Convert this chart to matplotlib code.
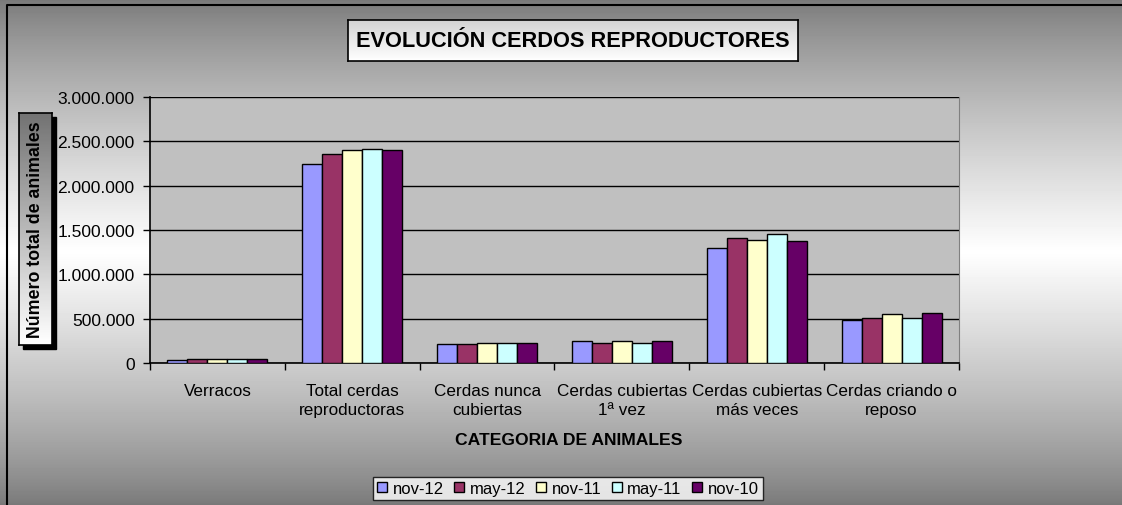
import numpy as np
import matplotlib.pyplot as plt
from matplotlib.patches import Rectangle
from matplotlib.lines import Line2D
from matplotlib.ticker import FuncFormatter, FixedLocator

plt.rcParams['font.family'] = ['Liberation Sans', 'DejaVu Sans']

# datos
categorias = ["Verracos", "Total cerdas\nreproductoras", "Cerdas nunca\ncubiertas",
              "Cerdas cubiertas\n1ª vez", "Cerdas cubiertas\nmás veces", "Cerdas criando o\nreposo"]
series = ["nov-12", "may-12", "nov-11", "may-11", "nov-10"]
nov12 = [32000, 2247000, 213000, 247000, 1299000, 487000]
may12 = [48000, 2355000, 213000, 228000, 1408000, 506000]
nov11 = [48000, 2397000, 231000, 247000, 1393000, 551000]
may11 = [48000, 2416000, 231000, 228000, 1456000, 506000]
nov10 = [48000, 2397000, 231000, 247000, 1374000, 565000]
colores = ["#9999FF", "#993366", "#FFFFCC", "#CCFFFF", "#660066"]

W, H = 1122, 506
fig = plt.figure(figsize=(W / 100, H / 100), dpi=100)

def fx(px):
    return px / W

def fy(py):
    return 1 - py / H

# fondo degradado (gris arriba y abajo, blanco en el centro), pixel a pixel
t = np.linspace(0, 1, H)
g = 0.47 + 0.53 * (1 - np.abs(t - 0.5) * 2) ** 0.8
fondo = np.repeat(g[:, None], W, axis=1)
fig.figimage(fondo, xo=0, yo=0, cmap='gray', vmin=0, vmax=1, origin='upper', zorder=-10)
# borde exterior (solo izquierda y arriba quedan dentro de la imagen)
fig.add_artist(Line2D([fx(7), fx(7), 1.05], [-0.05, fy(6), fy(6)], color='black', lw=1.5,
                      transform=fig.transFigure))

# grafico principal
ax = fig.add_axes([fx(150), fy(364.3), fx(959 - 150), (364.3 - 97.7) / H])
ax.set_facecolor('#C0C0C0')
x = np.arange(len(categorias))
ancho = 0.1483
datos = [nov12, may12, nov11, may11, nov10]
for i, (nombre, vals, col) in enumerate(zip(series, datos, colores)):
    ax.bar(x + (i - 2) * ancho, vals, ancho, color=col, edgecolor='black',
           linewidth=1, label=nombre, zorder=3)

ax.set_xlim(-0.5, len(categorias) - 0.5)
ax.set_ylim(0, 3000000)
ax.set_yticks(np.arange(0, 3000001, 500000))
ax.yaxis.set_major_formatter(FuncFormatter(lambda v, p: f"{int(v):,}".replace(',', '.')))
ax.grid(axis='y', color='black', linewidth=1, zorder=1)
ax.set_xticks(x)
ax.set_xticklabels(categorias, fontsize=12.3, linespacing=1.35)
ax.xaxis.set_minor_locator(FixedLocator(np.arange(-0.5, len(categorias), 1)))
ax.tick_params(axis='x', which='major', length=0, pad=14)
ax.tick_params(axis='x', which='minor', length=5, width=1, color='black')
ax.tick_params(axis='y', length=5, width=1, pad=6, labelsize=12.5)
ax.spines['top'].set_visible(False)
ax.spines['right'].set_color('#808080')
ax.spines['left'].set_linewidth(1.2)
ax.spines['bottom'].set_linewidth(1.2)

fig.text(fx(569), fy(441), "CATEGORIA DE ANIMALES", ha='center', va='center',
         fontsize=12.6, fontweight='bold')

# titulo en caja con degradado
tax = fig.add_axes([fx(348), fy(62), fx(798 - 348), (62 - 20.5) / H])
tg = np.linspace(0.82, 1.0, 100)
tax.imshow(tg[:, None] * np.ones((1, 2)), cmap='gray', vmin=0, vmax=1, aspect='auto',
           extent=[0, 1, 0, 1], origin='upper')
tax.set_xticks([])
tax.set_yticks([])
for s in tax.spines.values():
    s.set_linewidth(1.2)
tax.text(0.5, 0.5, "EVOLUCIÓN CERDOS REPRODUCTORES", ha='center', va='center',
         fontsize=15.7, fontweight='bold', transform=tax.transAxes)

# etiqueta del eje y en caja con sombra
fig.add_artist(Rectangle((fx(23), fy(350)), fx(33), (350 - 118) / H, color='black',
                         transform=fig.transFigure, zorder=0))
yax = fig.add_axes([fx(19), fy(346), fx(33), (346 - 114) / H])
yg = np.linspace(1.0, 0.45, 100)
yax.imshow(yg[:, None] * np.ones((1, 2)), cmap='gray', vmin=0, vmax=1, aspect='auto',
           extent=[0, 1, 0, 1], origin='lower')
yax.set_xticks([])
yax.set_yticks([])
for s in yax.spines.values():
    s.set_linewidth(1.2)
yax.text(0.5, 0.5, "Número total de animales", ha='center', va='center', rotation=90,
         fontsize=12.8, fontweight='bold', transform=yax.transAxes)

# leyenda
handles, labels = ax.get_legend_handles_labels()
leg = fig.legend(handles, labels, loc='center', bbox_to_anchor=(fx(568), fy(489.5)),
                 ncol=5, fontsize=12, frameon=True, fancybox=False, edgecolor='black',
                 handlelength=0.6, handleheight=0.6, handletextpad=0.35,
                 columnspacing=0.6, borderpad=0.25, borderaxespad=0)
leg.get_frame().set_linewidth(1)
leg.get_frame().set_facecolor('white')

fig.savefig("out.png", dpi=100)
